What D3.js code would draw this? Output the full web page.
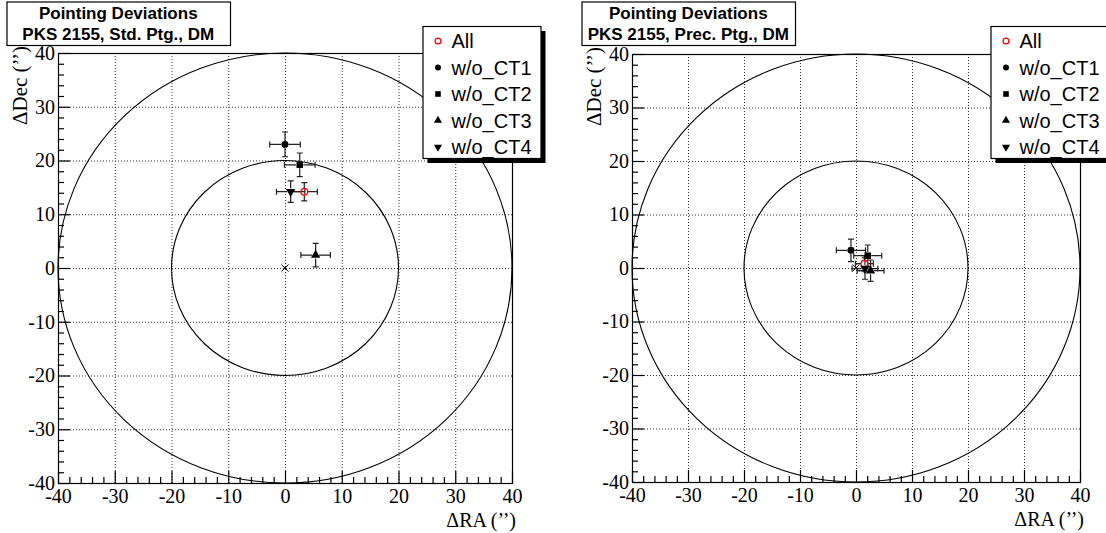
<!DOCTYPE html>
<html>
<head>
<meta charset="utf-8">
<script src="https://cdn.jsdelivr.net/npm/d3@7"></script>
<style>
  body { margin: 0; background: #fff; }
  svg { display: block; }
</style>
</head>
<body>
<svg id="chart" width="1106" height="533"></svg>
<script>
// Telescope subsets shown in both panels
const categories = ["All", "w/o_CT1", "w/o_CT2", "w/o_CT3", "w/o_CT4"];

// Standard pointing: offsets in arcsec with 1-sigma errors
const stdRA     = [3.4, 0.0, 2.6, 5.4, 1.0];
const stdRAErr  = [2.3, 2.7, 2.7, 2.6, 2.5];
const stdDec    = [14.2, 23.0, 19.2, 2.4, 14.2];
const stdDecErr = [1.7, 2.3, 2.2, 2.2, 2.0];

// Precision pointing: offsets in arcsec with 1-sigma errors
const precRA     = [1.5, -0.9, 2.1, 2.6, 1.6];
const precRAErr  = [1.6, 2.6, 2.5, 2.4, 2.3];
const precDec    = [0.8, 3.3, 2.3, -0.5, -0.1];
const precDecErr = [1.5, 2.1, 2.0, 2.0, 2.0];

// Axis ticks and reference circles (arcsec)
const majorTicks  = [-40, -30, -20, -10, 0, 10, 20, 30, 40];
const minorTicks  = [-38, -36, -34, -32, -28, -26, -24, -22, -18, -16, -14, -12, -8, -6, -4, -2,
                     2, 4, 6, 8, 12, 14, 16, 18, 22, 24, 26, 28, 32, 34, 36, 38];
const circleRadii = [20, 40];

const stdTitle  = ["Pointing Deviations", "PKS 2155, Std. Ptg., DM"];
const precTitle = ["Pointing Deviations", "PKS 2155, Prec. Ptg., DM"];

const svg = d3.select("#chart");
const SERIF = "'Liberation Serif', 'Times New Roman', serif";
const SANS = "'Liberation Sans', Arial, Helvetica, sans-serif";

// marker style per subset
const markerStyle = [
  { type: d3.symbolCircle,   size: 36, fill: "none", stroke: "#ff0000", rot: 0 },
  { type: d3.symbolCircle,   size: 38, fill: "#000", stroke: "none", rot: 0 },
  { type: d3.symbolSquare,   size: 42, fill: "#000", stroke: "none", rot: 0 },
  { type: d3.symbolTriangle, size: 38, fill: "#000", stroke: "none", rot: 0 },
  { type: d3.symbolTriangle, size: 38, fill: "#000", stroke: "none", rot: 180 }
];

function drawMarker(sel, i, cx, cy, scale = 1) {
  const m = markerStyle[i];
  sel.append("path")
    .attr("d", d3.symbol().type(m.type).size(m.size * scale)())
    .attr("transform", `translate(${cx},${cy}) rotate(${m.rot})`)
    .attr("fill", m.fill)
    .attr("stroke", m.stroke)
    .attr("stroke-width", m.stroke === "none" ? 0 : 1.3);
}

function drawPanel(p) {
  const g = svg.append("g");
  const x = d3.scaleLinear().domain([-40, 40]).range([p.left, p.right]);
  const y = d3.scaleLinear().domain([-40, 40]).range([p.bottom, p.top]);

  // dotted grid at the major ticks
  const inner = majorTicks.slice(1, -1);
  g.append("g").selectAll("line").data(inner).join("line")
    .attr("x1", d => x(d) + 0.5).attr("x2", d => x(d) + 0.5)
    .attr("y1", p.top).attr("y2", p.bottom)
    .attr("stroke", "#333").attr("stroke-width", 1).attr("stroke-dasharray", "1,2");
  g.append("g").selectAll("line").data(inner).join("line")
    .attr("y1", d => y(d) + 0.5).attr("y2", d => y(d) + 0.5)
    .attr("x1", p.left).attr("x2", p.right)
    .attr("stroke", "#333").attr("stroke-width", 1).attr("stroke-dasharray", "1,2");

  // reference circles of 20'' and 40''
  g.append("g").selectAll("ellipse").data(circleRadii).join("ellipse")
    .attr("cx", x(0)).attr("cy", y(0))
    .attr("rx", d => x(d) - x(0)).attr("ry", d => y(0) - y(d))
    .attr("fill", "none").attr("stroke", "#000").attr("stroke-width", 1.1);

  // frame
  g.append("rect")
    .attr("x", p.left + 0.5).attr("y", p.top + 0.5)
    .attr("width", p.right - p.left).attr("height", p.bottom - p.top)
    .attr("fill", "none").attr("stroke", "#000").attr("stroke-width", 1.2);

  const styleAxis = a => {
    a.select(".domain").remove();
    a.selectAll("line").attr("stroke", "#000").attr("stroke-width", 1.2);
    a.selectAll("text").attr("font-family", SERIF).attr("font-size", 20).attr("fill", "#000");
  };

  // bottom axis: major and minor ticks pointing inward
  g.append("g").attr("transform", `translate(0,${p.bottom})`)
    .call(d3.axisBottom(x).tickValues(majorTicks).tickSize(-12).tickPadding(6).tickFormat(d => String(d)))
    .call(styleAxis);
  g.append("g").attr("transform", `translate(0,${p.bottom})`)
    .call(d3.axisBottom(x).tickValues(minorTicks).tickSize(-6).tickFormat(""))
    .call(styleAxis);

  // left axis
  g.append("g").attr("transform", `translate(${p.left},0)`)
    .call(d3.axisLeft(y).tickValues(majorTicks).tickSize(-12).tickPadding(3).tickFormat(d => String(d)))
    .call(styleAxis);
  g.append("g").attr("transform", `translate(${p.left},0)`)
    .call(d3.axisLeft(y).tickValues(minorTicks).tickSize(-6).tickFormat(""))
    .call(styleAxis);

  // origin cross
  const ox = x(0), oy = y(0);
  g.append("path")
    .attr("d", `M${ox - 3.5},${oy - 3.5}L${ox + 3.5},${oy + 3.5}M${ox - 3.5},${oy + 3.5}L${ox + 3.5},${oy - 3.5}`)
    .attr("stroke", "#000").attr("stroke-width", 1);

  // error bars and markers
  const pts = g.append("g");
  const gap = 3.5, cap = 3;
  p.ra.forEach((ra, i) => {
    const cx = x(ra), cy = y(p.dec[i]);
    const x0 = x(ra - p.raErr[i]), x1 = x(ra + p.raErr[i]);
    const y0 = y(p.dec[i] - p.decErr[i]), y1 = y(p.dec[i] + p.decErr[i]);
    const d = [
      `M${x0},${cy}L${cx - gap},${cy}`, `M${cx + gap},${cy}L${x1},${cy}`,
      `M${cx},${y0}L${cx},${cy + gap}`, `M${cx},${cy - gap}L${cx},${y1}`,
      `M${x0},${cy - cap}L${x0},${cy + cap}`, `M${x1},${cy - cap}L${x1},${cy + cap}`,
      `M${cx - cap},${y0}L${cx + cap},${y0}`, `M${cx - cap},${y1}L${cx + cap},${y1}`
    ].join("");
    pts.append("path").attr("d", d).attr("stroke", "#222").attr("stroke-width", 1.2).attr("fill", "none");
  });
  p.ra.forEach((ra, i) => drawMarker(pts, i, x(ra), y(p.dec[i])));

  // axis titles
  g.append("text")
    .attr("x", p.right + 4).attr("y", p.bottom + 44)
    .attr("text-anchor", "end")
    .attr("font-family", SERIF).attr("font-size", 20)
    .text("\u0394RA (\u2019\u2019)");
  g.append("text")
    .attr("transform", `translate(${p.left - 31},${p.top - 7}) rotate(-90)`)
    .attr("text-anchor", "end")
    .attr("font-family", SERIF).attr("font-size", 21)
    .text("\u0394Dec (\u2019\u2019)");

  // title box
  const t = p.titleBox;
  g.append("rect")
    .attr("x", t.x + 0.5).attr("y", t.y + 0.5).attr("width", t.w).attr("height", t.h)
    .attr("fill", "#fff").attr("stroke", "#000").attr("stroke-width", 1.2);
  g.append("g").selectAll("text").data(p.title).join("text")
    .attr("x", t.x + t.w / 2).attr("y", (d, i) => t.y + 17 + i * 21)
    .attr("text-anchor", "middle")
    .attr("font-family", SANS).attr("font-weight", "bold").attr("font-size", 17)
    .text(d => d);

  // legend with drop shadow
  const L = { x: p.right - 89.5, y: 26, w: 118, h: 132 };
  g.append("rect").attr("x", L.x + 5).attr("y", L.y + 5).attr("width", L.w).attr("height", L.h).attr("fill", "#000");
  g.append("rect").attr("x", L.x + 0.5).attr("y", L.y + 0.5).attr("width", L.w).attr("height", L.h)
    .attr("fill", "#fff").attr("stroke", "#000").attr("stroke-width", 1.2);
  const lg = g.append("g");
  categories.forEach((name, i) => {
    const ry = L.y + 15 + i * 26.5;
    drawMarker(lg, i, L.x + 15.5, ry, 0.75);
    lg.append("text")
      .attr("x", L.x + 29).attr("y", ry).attr("dy", "0.36em")
      .attr("font-family", SANS).attr("font-size", 20)
      .text(name);
  });
}

drawPanel({
  left: 58, right: 512, top: 53, bottom: 483,
  ra: stdRA, raErr: stdRAErr, dec: stdDec, decErr: stdDecErr,
  title: stdTitle, titleBox: { x: 6.5, y: 1.5, w: 223.5, h: 43.5 }
});
drawPanel({
  left: 632, right: 1080, top: 54, bottom: 482,
  ra: precRA, raErr: precRAErr, dec: precDec, decErr: precDecErr,
  title: precTitle, titleBox: { x: 581.5, y: 1.5, w: 213.5, h: 43.5 }
});
</script>
</body>
</html>
